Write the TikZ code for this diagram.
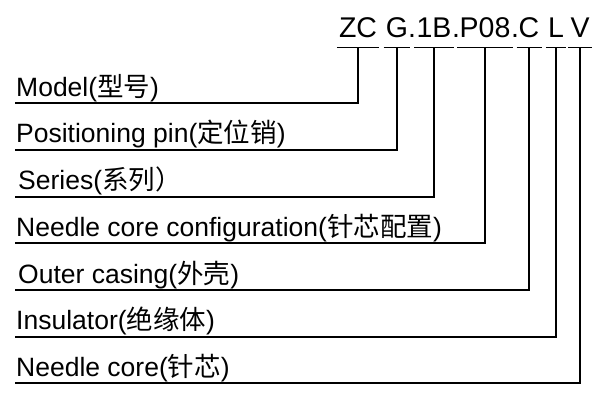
\documentclass[tikz,border=0pt]{standalone}
\usepackage{fontspec}
\setmainfont{Liberation Sans}
\newfontfamily\cjk{Noto Sans CJK SC}
\usepackage{tikz}
\usetikzlibrary{positioning}

\tikzset{
	codepart/.style={anchor=base, inner xsep=2pt, inner ysep=0pt, text depth=10pt, font=\fontsize{28.5}{32}\selectfont},
	codedot/.style={anchor=base, inner sep=0pt, font=\fontsize{28.5}{32}\selectfont},
	partname/.style={anchor=base west, inner sep=0pt, font=\fontsize{26.5}{29}\selectfont},
	leader/.style={line width=1.3pt, line join=miter}
}

\begin{document}
\begin{tikzpicture}[x=1pt, y=-1pt]
	\useasboundingbox (0,0) rectangle (604,394);

	% code on top
	\node[codepart] (zc) at (358,37) {ZC};
	\node[codepart] (g) at (397,37) {G};
	\node[codedot] (d1) at (412,37) {.};
	\node[codepart] (oneb) at (434,37) {1B};
	\node[codedot] (d2) at (456,37) {.};
	\node[codepart] (p08) at (485,37) {P08};
	\node[codedot] (d3) at (515,37) {.};
	\node[codepart] (c) at (529,37) {C};
	\node[codepart] (l) at (556,37) {L};
	\node[codepart] (v) at (580,37) {V};

	\draw[leader] (zc.south west) -- (zc.south east);
	\draw[leader] (g.south west) -- (g.south east);
	\draw[leader] (oneb.south west) -- (oneb.south east);
	\draw[leader] (p08.south west) -- (p08.south east);
	\draw[leader] (c.south west) -- (c.south east);
	\draw[leader] (l.south west) -- (l.south east);
	\draw[leader] (v.south west) -- (v.south east);

	% names of the parts
	\node[partname] (model) at (16,96) {Model({\cjk 型号})};
	\node[partname] (pin) at (16,142) {Positioning pin({\cjk 定位销})};
	\node[partname] (series) at (18,189) {Series({\cjk 系列）}};
	\node[partname] (config) at (16,236) {Needle core configuration({\cjk 针芯配置})};
	\node[partname] (casing) at (18,283) {Outer casing({\cjk 外壳})};
	\node[partname] (insul) at (16,329) {Insulator({\cjk 绝缘体})};
	\node[partname] (core) at (16,376) {Needle core({\cjk 针芯})};

	\coordinate (modelend) at (15,103);
	\coordinate (pinend) at (15,150);
	\coordinate (seriesend) at (15,197);
	\coordinate (configend) at (15,243);
	\coordinate (casingend) at (15,290);
	\coordinate (insulend) at (15,337);
	\coordinate (coreend) at (15,383);

	% leaders
	\draw[leader] (zc.south) |- (modelend);
	\draw[leader] (g.south) |- (pinend);
	\draw[leader] (oneb.south) |- (seriesend);
	\draw[leader] (p08.south) |- (configend);
	\draw[leader] (c.south) |- (casingend);
	\draw[leader] (l.south) |- (insulend);
	\draw[leader] (v.south) |- (coreend);
\end{tikzpicture}
\end{document}
